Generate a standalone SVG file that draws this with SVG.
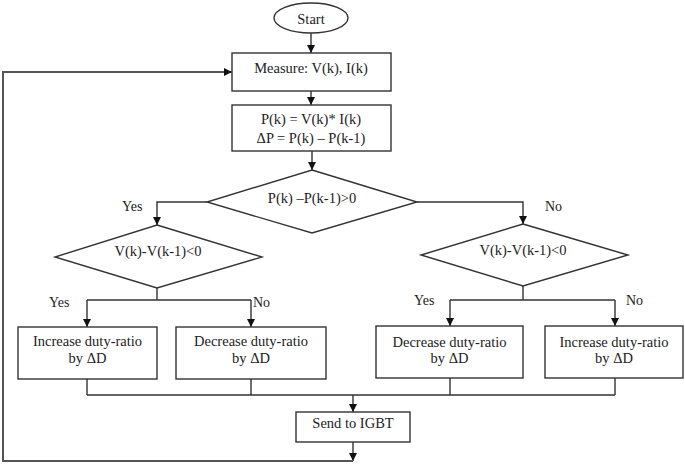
<svg xmlns="http://www.w3.org/2000/svg" width="685" height="464" viewBox="0 0 685 464">
<style>
.n{fill:#fff;stroke:#333;stroke-width:1.4}
.t{font-family:'Liberation Serif','Times New Roman',serif;font-size:14.5px;fill:#222;text-anchor:middle}
.l{font-family:'Liberation Serif','Times New Roman',serif;font-size:14px;fill:#222}
.c{fill:none;stroke:#333;stroke-width:1.4}
.fb{fill:none;stroke:#555;stroke-width:2}
</style>
<defs>
<marker id="ah" markerUnits="userSpaceOnUse" markerWidth="8" markerHeight="8" refX="8" refY="4" orient="auto">
<path d="M0,0 L8,4 L0,8 z" fill="#111"/>
</marker>
</defs>
<rect width="685" height="464" fill="#fff"/>
<g id="connectors">
<path class="c" d="M311,33 V53" marker-end="url(#ah)"/>
<path class="c" d="M311,91 V105" marker-end="url(#ah)"/>
<path class="c" d="M312,151 V170" marker-end="url(#ah)"/>
<path class="c" d="M207,202 H157 V225" marker-end="url(#ah)"/>
<path class="c" d="M417,202 H523 V224" marker-end="url(#ah)"/>
<path class="c" d="M157,288 V300 M87,300 H251"/>
<path class="c" d="M87,300 V327" marker-end="url(#ah)"/>
<path class="c" d="M251,300 V327" marker-end="url(#ah)"/>
<path class="c" d="M523,286 V300 M450,300 H615"/>
<path class="c" d="M450,300 V326" marker-end="url(#ah)"/>
<path class="c" d="M615,300 V326" marker-end="url(#ah)"/>
<path class="c" d="M87,379 V395 M251,379 V395 M450,378 V395 M615,378 V395 M87,395 H615"/>
<path class="c" d="M353,395 V412" marker-end="url(#ah)"/>
<path class="c" d="M353,442 V461" marker-end="url(#ah)"/>
<path class="fb" d="M353,461 H3 V72 H232" marker-end="url(#ah)"/>
<text class="l" x="122" y="211">Yes</text>
<text class="l" x="545" y="211">No</text>
<text class="l" x="49" y="307">Yes</text>
<text class="l" x="253" y="307">No</text>
<text class="l" x="414" y="305">Yes</text>
<text class="l" x="626" y="305">No</text>
</g>
<g id="start">
<ellipse class="n" cx="311" cy="18" rx="37" ry="15"/>
<text class="t" x="311" y="24">Start</text>
</g>
<g id="measure">
<rect class="n" x="232" y="53" width="159" height="38"/>
<text class="t" x="311" y="73">Measure: V(k), I(k)</text>
</g>
<g id="power">
<rect class="n" x="232" y="105" width="159" height="46"/>
<text class="t" x="311" y="124">P(k) = V(k)* I(k)</text>
<text class="t" x="311" y="143">ΔP = P(k) – P(k-1)</text>
</g>
<g id="decision1">
<polygon class="n" points="312,170 417,202 312,233 207,202"/>
<text class="t" x="312" y="203">P(k) –P(k-1)&gt;0</text>
</g>
<g id="decision2">
<polygon class="n" points="157,225 262,257 157,288 55,257"/>
<text class="t" x="158" y="256">V(k)-V(k-1)&lt;0</text>
</g>
<g id="decision3">
<polygon class="n" points="523,224 628,255 523,286 421,255"/>
<text class="t" x="523" y="255">V(k)-V(k-1)&lt;0</text>
</g>
<g id="inc1">
<rect class="n" x="18" y="327" width="139" height="52"/>
<text class="t" x="87.5" y="346">Increase duty-ratio</text>
<text class="t" x="87.5" y="363">by ΔD</text>
</g>
<g id="dec1">
<rect class="n" x="176" y="327" width="150" height="52"/>
<text class="t" x="251" y="346">Decrease duty-ratio</text>
<text class="t" x="251" y="363">by ΔD</text>
</g>
<g id="dec2">
<rect class="n" x="376" y="326" width="147" height="52"/>
<text class="t" x="449.5" y="347">Decrease duty-ratio</text>
<text class="t" x="449.5" y="363">by ΔD</text>
</g>
<g id="inc2">
<rect class="n" x="545" y="326" width="138" height="52"/>
<text class="t" x="614" y="347">Increase duty-ratio</text>
<text class="t" x="614" y="363">by ΔD</text>
</g>
<g id="send">
<rect class="n" x="296" y="412" width="114" height="30"/>
<text class="t" x="353" y="428">Send to IGBT</text>
</g>
</svg>
